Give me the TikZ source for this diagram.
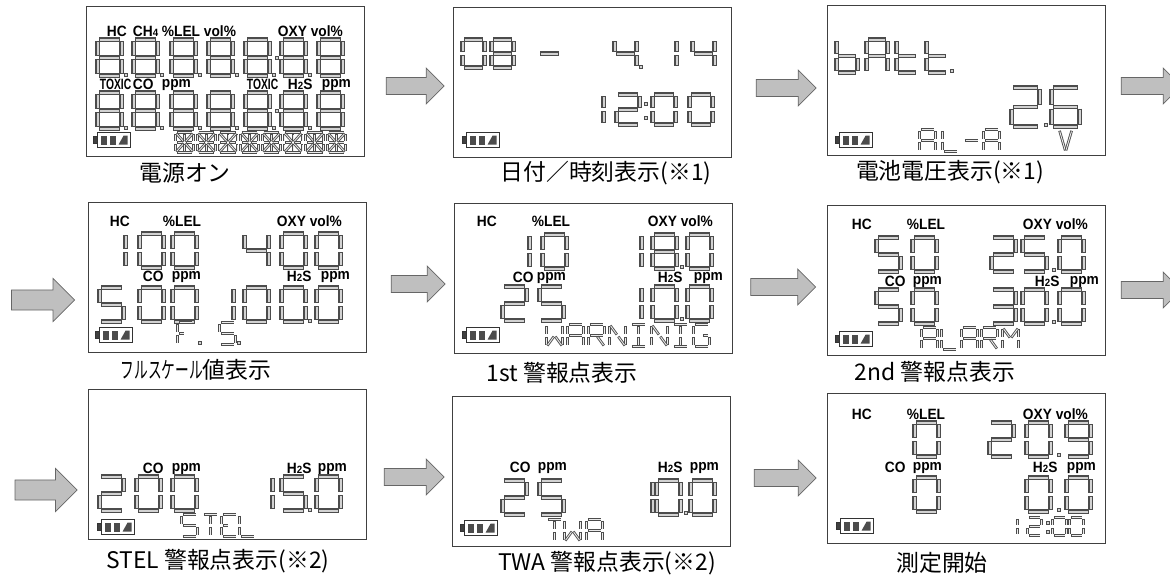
\documentclass[tikz,border=0pt]{standalone}
\usepackage{fontspec}
\usepackage{graphicx}
\setsansfont{Liberation Sans}
\newfontfamily\jpfont{Noto Sans CJK JP}
\newfontfamily\lblfont[FakeStretch=0.92]{Liberation Sans}
\usetikzlibrary{shapes.arrows, positioning}

% segment end points in a box 1 wide and 2 high (y down)
\def\lcda{0/0/1/0}   \def\lcdb{1/0/1/1}   \def\lcdc{1/1/1/2}
\def\lcdd{0/2/1/2}   \def\lcde{0/1/0/2}   \def\lcdf{0/0/0/1}
\def\lcdg{0/1/1/1}   \def\lcdgl{0/1/0.5/1} \def\lcdgr{0.5/1/1/1}
\def\lcdh{0/0/0.5/1} \def\lcdi{0.5/0/0.5/1} \def\lcdj{1/0/0.5/1}
\def\lcdk{0.5/1/0/2} \def\lcdl{0.5/1/0.5/2} \def\lcdm{0.5/1/1/2}
\def\lcdvl{0.1/0/0.5/2} \def\lcdvr{0.5/2/0.9/0}

% characters
\def\dZero{a,b,c,d,e,f}   \def\dOne{b,c}         \def\dTwo{a,b,g,e,d}
\def\dThree{a,b,g,c,d}    \def\dFour{f,g,b,c}    \def\dFive{a,f,g,c,d}
\def\dSix{a,f,g,e,d,c}    \def\dEight{a,b,c,d,e,f,g} \def\dNine{a,b,c,d,f,g}
\def\chA{a,b,c,e,f,g}     \def\chL{d,e,f}        \def\chDash{g}
\def\chb{c,d,e,f,g}       \def\cht{d,e,f,g}      \def\chS{a,f,g,c,d}
\def\chF{a,e,f,gl}        \def\chE{a,d,e,f,gl}   \def\chT{a,i,l}
\def\chW{b,c,e,f,k,m}     \def\chR{a,b,e,f,g,m}  \def\chN{b,c,e,f,h,m}
\def\chI{a,d,i,l}         \def\chG{a,f,e,d,c,gr} \def\chM{b,c,e,f,h,j}
\def\chV{vl,vr}           \def\chAll{a,b,c,d,e,f,gl,gr,h,i,j,k,l,m}

\def\lcdseg#1/#2/#3/#4\relax{%
  \draw[segout] (#1,#2) -- (#3,#4);
  \draw[segin] (#1,#2) -- (#3,#4);}
\newcommand\lcddot[1]{\draw[dotbox] (#1) +(-1.5,-1.5) rectangle +(1.5,1.5);}
\newcommand\lsub[1]{{\fontsize{6}{6}\selectfont #1}}
\newcommand\narrow[1]{\scalebox{0.75}[1]{#1}}

\tikzset{
    pics/lcd/.style 2 args={code={
        \begin{scope}[#1]
            \edef\seglist{#2}
            \foreach \sg in \seglist {
                \edef\segpts{\csname lcd\sg\endcsname}
                \expandafter\lcdseg\segpts\relax
            }
        \end{scope}
    }},
    pics/battery/.style={code={
        \draw[battline] (5,0) rectangle (38,15);
        \draw[battline, fill=black!75] (1,4) rectangle (5,11);
        \fill[black!70] (8,3) rectangle (14,12);
        \fill[black!70] (17,3) rectangle (23,12);
        \fill[black!70] (26,12) -- (31,3) -- (35,3) -- (35,12) -- cycle;
    }}
}

\begin{document}
\begin{tikzpicture}[
    x=0.02cm, y=-0.02cm,
    lcd/.style={
        rectangle,
        draw=black!75,
        line width=0.5pt,
        minimum width=5.56cm,
        minimum height=3cm,
        inner sep=0
    },
    grayarrow/.style={
        single arrow,
        draw=black!60,
        fill=gray!50,
        minimum height=1.2cm,
        minimum width=0.72cm,
        single arrow head extend=0.19cm,
        inner xsep=0,
        inner ysep=0.16cm
    },
    captxt/.style={
        font=\jpfont\fontsize{13}{15}\selectfont,
        inner sep=0
    },
    lbl/.style={
        font=\lblfont\bfseries\fontsize{8.5}{9}\selectfont,
        inner sep=0,
        anchor=west
    },
    segout/.style={draw=black!70, line width=2.4pt, shorten <=0.9pt, shorten >=0.9pt},
    segin/.style={draw=gray!35, line width=1.1pt, shorten <=1.5pt, shorten >=1.5pt},
    thinseg/.style={
        segout/.style={draw=black!70, line width=1.5pt, shorten <=0.7pt, shorten >=0.7pt},
        segin/.style={draw=gray!15, line width=0.5pt, shorten <=1.1pt, shorten >=1.1pt}
    },
    dgA/.style={x=0.48cm, y=-0.36cm},
    dgB/.style={x=0.44cm, y=-0.28cm},
    dgC/.style={x=0.46cm, y=-0.30cm},
    dgD/.style={x=0.42cm, y=-0.33cm},
    dgE/.style={x=0.56cm, y=-0.39cm},
    dig/.style={x=0.48cm, y=-0.34cm},
    chr/.style={thinseg, x=0.32cm, y=-0.22cm},
    starseg/.style={thinseg, x=0.36cm, y=-0.20cm},
    smallseg/.style={thinseg, x=0.28cm, y=-0.18cm},
    dotbox/.style={draw=black!70, fill=gray!35, line width=0.6pt},
    battline/.style={draw=black!80, line width=0.7pt}
]
\useasboundingbox (0,0) rectangle (1170,578);
\clip (0,0) rectangle (1170,578);

% Panels
\node [lcd] (p1) at (225,81) {};
\node [lcd] (p2) at (592,82) {};
\node [lcd] (p3) at (966,80) {};
\node [lcd] (p4) at (227,277) {};
\node [lcd] (p5) at (593,278) {};
\node [lcd] (p6) at (966,280) {};
\node [lcd] (p7) at (227,464) {};
\node [lcd] (p8) at (591,471) {};
\node [lcd] (p9) at (966,468) {};

% Captions
\node [captxt] (c1) at (185,173) {電源オン};
\node [captxt] (c2) at (606,173) {日付／時刻表示(※1)};
\node [captxt] (c3) at (950,172) {電池電圧表示(※1)};
\node [captxt] (c4) at (196,370) {\scalebox{0.6}[1]{フルスケール}値表示};
\node [captxt] (c5) at (562,373) {1st 警報点表示};
\node [captxt] (c6) at (935,372) {2nd 警報点表示};
\node [captxt] (c7) at (218,561) {STEL 警報点表示(※2)};
\node [captxt] (c8) at (607,563) {TWA 警報点表示(※2)};
\node [captxt] (c9) at (942,563) {測定開始};

% Arrows
\node [grayarrow, minimum height=1.16cm] (a1) at (411,86) {};
\node [grayarrow] (a2) at (782,88) {};
\node [grayarrow] (a3) at (1147,86) {};
\node [grayarrow, minimum height=1.26cm, minimum width=0.86cm] (a4) at (38,300) {};
\node [grayarrow, minimum height=1.08cm] (a5) at (414,284) {};
\node [grayarrow, minimum height=1.3cm] (a6) at (779,287) {};
\node [grayarrow] (a7) at (1147,290) {};
\node [grayarrow, minimum height=1.24cm, minimum width=0.86cm] (a8) at (41,490) {};
\node [grayarrow] (a9) at (410,477) {};
\node [grayarrow, minimum height=1.24cm] (a10) at (781,478) {};

% Power on
\begin{scope}[shift={(p1.north west)}]
    \node [lbl] (p1hc) at (21,26) {HC};
    \node [lbl] (p1ch) at (47,26) {CH\lsub{4}};
    \node [lbl] (p1lel) at (76,26) {\%LEL};
    \node [lbl] (p1vol) at (118,26) {vol\%};
    \node [lbl] (p1oxy) at (192,26) {OXY vol\%};
    \node [lbl] (p1tox) at (14,79) {\narrow{TOXIC}};
    \node [lbl] (p1co) at (47,79) {CO};
    \node [lbl] (p1ppm) at (76,79) {ppm};
    \node [lbl] (p1toxb) at (161,79) {\narrow{TOXIC}};
    \node [lbl] (p1hs) at (202,79) {H\lsub{2}S};
    \node [lbl] (p1ppmb) at (236,79) {ppm};
    \foreach \px in {12,48,86,123,160,196,233} {
        \pic at (\px,34) {lcd={dgA}{\dEight}};
        \pic at (\px,87) {lcd={dgA}{\dEight}};
    }
    \foreach \px in {40,76,114,151,188,224} {\lcddot{\px,69} \lcddot{\px,122}}
    \lcddot{191,52} \lcddot{191,105}
    \foreach \i in {0,...,7} \pic at (90+21.7*\i,127) {lcd={starseg}{\chAll}};
    \pic at (7,127) {battery};
\end{scope}

% Date / time
\begin{scope}[shift={(p2.north west)}]
    \foreach \px/\dg in {10/\dZero, 39/\dEight, 86/\chDash, 162/\dFour, 202/\dOne, 240/\dFour}
        \pic at (\px,33) {lcd={dgB}{\dg}};
    \lcddot{188,60}
    \foreach \px/\dg in {128/\dOne, 164/\dTwo, 200/\dZero, 237/\dZero}
        \pic at (\px,88) {lcd={dgC}{\dg}};
    \lcddot{193,97} \lcddot{193,111}
    \pic at (9,126) {battery};
\end{scope}

% Battery voltage
\begin{scope}[shift={(p3.north west)}]
    \foreach \px/\dg in {10/\chb, 40/\chA, 70/\cht, 100/\cht}
        \pic at (\px,35) {lcd={dgD}{\dg}};
    \lcddot{125,66}
    \pic at (185,83) {lcd={dgE}{\dTwo}};
    \lcddot{219,120}
    \pic at (225,83) {lcd={dgE}{\dSix}};
    \foreach \px/\dg in {93/\chA, 116/\chL, 137/\chDash, 157/\chA, 231/\chV}
        \pic at (\px,125) {lcd={chr}{\dg}};
    \pic at (8,128) {battery};
\end{scope}

% Full scale
\begin{scope}[shift={(p4.north west)}]
    \node [lbl] (p4hc) at (22,20) {HC};
    \node [lbl] (p4lel) at (75,20) {\%LEL};
    \node [lbl] (p4oxy) at (189,20) {OXY vol\%};
    \node [lbl] (p4co) at (55,75) {CO};
    \node [lbl] (p4ppm) at (84,75) {ppm};
    \node [lbl] (p4hs) at (199,75) {H\lsub{2}S};
    \node [lbl] (p4ppmb) at (233,75) {ppm};
    \foreach \px/\dg in {14/\dOne, 52/\dZero, 85/\dZero, 157/\dFour, 194/\dZero, 229/\dZero}
        \pic at (\px,32) {lcd={dig}{\dg}};
    \foreach \px/\dg in {12/\dFive, 52/\dZero, 85/\dZero, 122/\dOne, 157/\dZero, 194/\dZero, 229/\dZero}
        \pic at (\px,86) {lcd={dig}{\dg}};
    \lcddot{222,119}
    \pic at (90,121) {lcd={chr}{\chF}};
    \pic at (132,121) {lcd={chr}{\chS}};
    \lcddot{112,141} \lcddot{151,141}
    \pic at (7,126) {battery};
\end{scope}

% 1st alarm
\begin{scope}[shift={(p5.north west)}]
    \node [lbl] (p5hc) at (23,19) {HC};
    \node [lbl] (p5lel) at (78,19) {\%LEL};
    \node [lbl] (p5oxy) at (194,19) {OXY vol\%};
    \node [lbl] (p5co) at (59,75) {CO};
    \node [lbl] (p5ppm) at (83,75) {ppm};
    \node [lbl] (p5hs) at (204,75) {H\lsub{2}S};
    \node [lbl] (p5ppmb) at (240,75) {ppm};
    \foreach \px/\dg in {52/\dOne, 89/\dZero, 164/\dOne, 199/\dEight, 234/\dZero}
        \pic at (\px,32) {lcd={dig}{\dg}};
    \lcddot{228,64}
    \foreach \px/\dg in {49/\dTwo, 86/\dFive, 164/\dOne, 199/\dZero, 234/\dZero}
        \pic at (\px,84) {lcd={dig}{\dg}};
    \lcddot{228,116}
    \foreach \dg [count=\i from 0] in {\chW,\chA,\chR,\chN,\chI,\chN,\chI,\chG}
        \pic at (93+21*\i,122) {lcd={chr}{\dg}};
    \pic at (8,125) {battery};
\end{scope}

% 2nd alarm
\begin{scope}[shift={(p6.north west)}]
    \node [lbl] (p6hc) at (25,20) {HC};
    \node [lbl] (p6lel) at (80,20) {\%LEL};
    \node [lbl] (p6oxy) at (196,20) {OXY vol\%};
    \node [lbl] (p6co) at (58,77) {CO};
    \node [lbl] (p6ppm) at (86,77) {ppm};
    \node [lbl] (p6hs) at (208,77) {H\lsub{2}S};
    \node [lbl] (p6ppmb) at (243,77) {ppm};
    \foreach \px/\dg in {50/\dFive, 86/\dZero, 165/\dTwo, 196/\dFive, 233/\dZero}
        \pic at (\px,33) {lcd={dig}{\dg}};
    \lcddot{227,65}
    \foreach \px/\dg in {50/\dFive, 86/\dZero, 165/\dThree, 196/\dZero, 233/\dZero}
        \pic at (\px,85) {lcd={dig}{\dg}};
    \lcddot{227,117}
    \foreach \px/\dg in {95/\chA, 115/\chL, 135/\chA, 155/\chR, 176/\chM}
        \pic at (\px,123) {lcd={chr}{\dg}};
    \pic at (8,127) {battery};
\end{scope}

% STEL
\begin{scope}[shift={(p7.north west)}]
    \node [lbl] (p7co) at (55,80) {CO};
    \node [lbl] (p7ppm) at (84,80) {ppm};
    \node [lbl] (p7hs) at (199,80) {H\lsub{2}S};
    \node [lbl] (p7ppmb) at (230,80) {ppm};
    \foreach \px/\dg in {12/\dTwo, 49/\dZero, 85/\dZero, 161/\dOne, 194/\dFive, 229/\dZero}
        \pic at (\px,88) {lcd={dig}{\dg}};
    \lcddot{222,121}
    \foreach \px/\dg in {94/\chS, 115/\chT, 134/\chE, 152/\chL}
        \pic at (\px,126) {lcd={chr}{\dg}};
    \pic at (9,131) {battery};
\end{scope}

% TWA
\begin{scope}[shift={(p8.north west)}]
    \node [lbl] (p8co) at (58,72) {CO};
    \node [lbl] (p8ppm) at (86,72) {ppm};
    \node [lbl] (p8hs) at (206,72) {H\lsub{2}S};
    \node [lbl] (p8ppmb) at (238,72) {ppm};
    \foreach \px/\dg in {51/\dTwo, 88/\dFive, 177/\dOne, 205/\dZero, 239/\dZero}
        \pic at (\px,85) {lcd={dig}{\dg}};
    \lcddot{234,117}
    \foreach \px/\dg in {95/\chT, 113/\chW, 135/\chA}
        \pic at (\px,124) {lcd={chr}{\dg}};
    \pic at (8,125) {battery};
\end{scope}

% Measuring
\begin{scope}[shift={(p9.north west)}]
    \node [lbl] (p9hc) at (25,22) {HC};
    \node [lbl] (p9lel) at (80,22) {\%LEL};
    \node [lbl] (p9oxy) at (196,22) {OXY vol\%};
    \node [lbl] (p9co) at (58,75) {CO};
    \node [lbl] (p9ppm) at (86,75) {ppm};
    \node [lbl] (p9hs) at (206,75) {H\lsub{2}S};
    \node [lbl] (p9ppmb) at (240,75) {ppm};
    \foreach \px/\dg in {88/\dZero, 163/\dTwo, 200/\dZero, 240/\dNine}
        \pic at (\px,30) {lcd={dig}{\dg}};
    \lcddot{232,62}
    \foreach \px/\dg in {88/\dZero, 200/\dZero, 240/\dZero}
        \pic at (\px,85) {lcd={dig}{\dg}};
    \lcddot{232,117}
    \foreach \px/\dg in {177/\dOne, 201/\dTwo, 226/\dZero, 243/\dZero}
        \pic at (\px,125) {lcd={smallseg}{\dg}};
    \lcddot{221,130} \lcddot{221,139}
    \pic at (9,126) {battery};
\end{scope}

\end{tikzpicture}
\end{document}
